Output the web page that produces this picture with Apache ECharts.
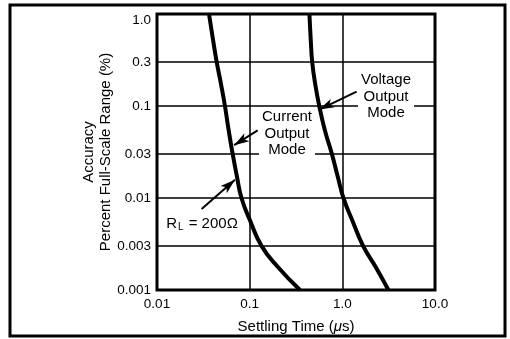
<!DOCTYPE html>
<html><head><meta charset="utf-8">
<script src="https://cdn.jsdelivr.net/npm/echarts@6/dist/echarts.min.js"></script>
<style>html,body{margin:0;padding:0;background:#fff}#c{width:510px;height:339px}</style>
</head><body><div id="c"></div>
<script>
// Settling time (us) vs accuracy (% FSR)
const accuracyLevels = [1.0, 0.529, 0.3, 0.167, 0.1, 0.0542, 0.03, 0.0171, 0.01, 0.00556, 0.003, 0.0018, 0.001];
const currentX = [0.0364, 0.0402, 0.0441, 0.0494, 0.0541, 0.0594, 0.0656, 0.0729, 0.0816, 0.102, 0.1347, 0.1995, 0.3488];
const voltageX = [0.4416, 0.456, 0.4732, 0.5128, 0.5636, 0.649, 0.7723, 0.892, 1.028, 1.295, 1.68, 2.275, 3.143];
const xTickValues = [0.01, 0.1, 1, 10];
const xTickLabels = ['0.01', '0.1', '1.0', '10.0'];
const yTickValues = [0.001, 0.003, 0.01, 0.03, 0.1, 0.3, 1];
const yTickLabels = ['0.001', '0.003', '0.01', '0.03', '0.1', '0.3', '1.0'];
// annotation arrows: [tailX, tailY, tipX, tipY] in data units
const arrowCurrent = [0.122, 0.0542, 0.068, 0.0375];
const arrowVoltage = [1.426, 0.1433, 0.563, 0.0914];
const arrowRL = [0.0303, 0.00759, 0.0694, 0.0158];

const FONT = "'Liberation Sans', Arial, Helvetica, sans-serif";
function lookup(values, labels, v) {
  for (let i = 0; i < values.length; i++) {
    if (Math.abs(Math.log10(v) - Math.log10(values[i])) < 0.01) return labels[i];
  }
  return '';
}
function pairs(xs, ys) { return xs.map((x, i) => [x, ys[i]]); }
function arrow(a) { return [{coord: [a[0], a[1]]}, {coord: [a[2], a[3]]}]; }

const chart = echarts.init(document.getElementById('c'), null, {renderer: 'canvas'});
chart.setOption({
  animation: false,
  backgroundColor: '#fff',
  textStyle: {fontFamily: FONT},
  grid: {left: 157, right: 75, top: 14, bottom: 43, show: true, borderColor: '#000', borderWidth: 3, backgroundColor: 'transparent'},
  xAxis: {
    type: 'log', logBase: 10, min: 0.01, max: 10,
    axisLine: {show: false}, axisTick: {show: false},
    splitLine: {show: true, lineStyle: {color: '#000', width: 1.5}},
    axisLabel: {
      color: '#000', fontSize: 13.5, fontFamily: FONT, margin: 7,
      customValues: xTickValues,
      formatter: v => lookup(xTickValues, xTickLabels, v)
    },
    name: 'Settling Time ({it|μ}s)', nameLocation: 'middle', nameGap: 29, nameMoveOverlap: false,
    nameTextStyle: {color: '#000', fontSize: 15, fontFamily: FONT,
      rich: {it: {fontStyle: 'italic', fontSize: 15, fontFamily: FONT, color: '#000'}}}
  },
  yAxis: {
    type: 'log', logBase: 10, min: 0.001, max: 1,
    axisLine: {show: false},
    axisTick: {show: false, customValues: yTickValues},
    splitLine: {show: true, lineStyle: {color: '#000', width: 1.5}},
    axisLabel: {
      color: '#000', fontSize: 13.5, fontFamily: FONT, margin: 6,
      customValues: yTickValues,
      formatter: v => {
        const t = lookup(yTickValues, yTickLabels, v);
        return t === '1.0' ? '{top|' + t + '}' : t;
      },
      rich: {top: {fontSize: 13.5, fontFamily: FONT, color: '#000', padding: [12, 0, 0, 0]}}
    },
    name: 'Accuracy\nPercent Full-Scale Range (%)', nameLocation: 'middle', nameGap: 43, nameMoveOverlap: false,
    nameTextStyle: {color: '#000', fontSize: 15, fontFamily: FONT, lineHeight: 17, align: 'center'}
  },
  graphic: [
    {type: 'rect', z: 1, shape: {x: 10, y: 5, width: 495, height: 331},
      style: {fill: 'none', stroke: '#000', lineWidth: 3}},
    {type: 'text', z: 1, style: {text: 'Current\nOutput\nMode', x: 287, y: 133.5, align: 'center', verticalAlign: 'middle',
      font: '15px ' + FONT, fill: '#000', lineHeight: 16.5, backgroundColor: '#fff', padding: [1, 3]}},
    {type: 'text', z: 1, style: {text: 'Voltage\nOutput\nMode', x: 386, y: 96.7, align: 'center', verticalAlign: 'middle',
      font: '15px ' + FONT, fill: '#000', lineHeight: 16.5, backgroundColor: '#fff', padding: [1, 3]}},
    {type: 'text', z: 1, style: {text: '{n|R}{s|L}{n| = 200Ω}', x: 202, y: 224, align: 'center', verticalAlign: 'middle',
      fill: '#000', rich: {n: {fontSize: 15, fontFamily: FONT, fill: '#000'}, s: {fontSize: 10, fontFamily: FONT, fill: '#000', padding: [7, 1, 0, 1]}}}}
  ],
  series: [
    {type: 'line', data: pairs(currentX, accuracyLevels), smooth: 0.5, symbol: 'none', z: 3,
      lineStyle: {color: '#000', width: 4},
      markLine: {silent: true, symbol: ['none', 'arrow'], symbolSize: [7, 15], animation: false,
        lineStyle: {color: '#000', width: 2, type: 'solid'}, label: {show: false},
        data: [arrow(arrowCurrent), arrow(arrowVoltage), arrow(arrowRL)]}},
    {type: 'line', data: pairs(voltageX, accuracyLevels), smooth: 0.5, symbol: 'none', z: 3,
      lineStyle: {color: '#000', width: 4}}
  ]
});
</script></body></html>
